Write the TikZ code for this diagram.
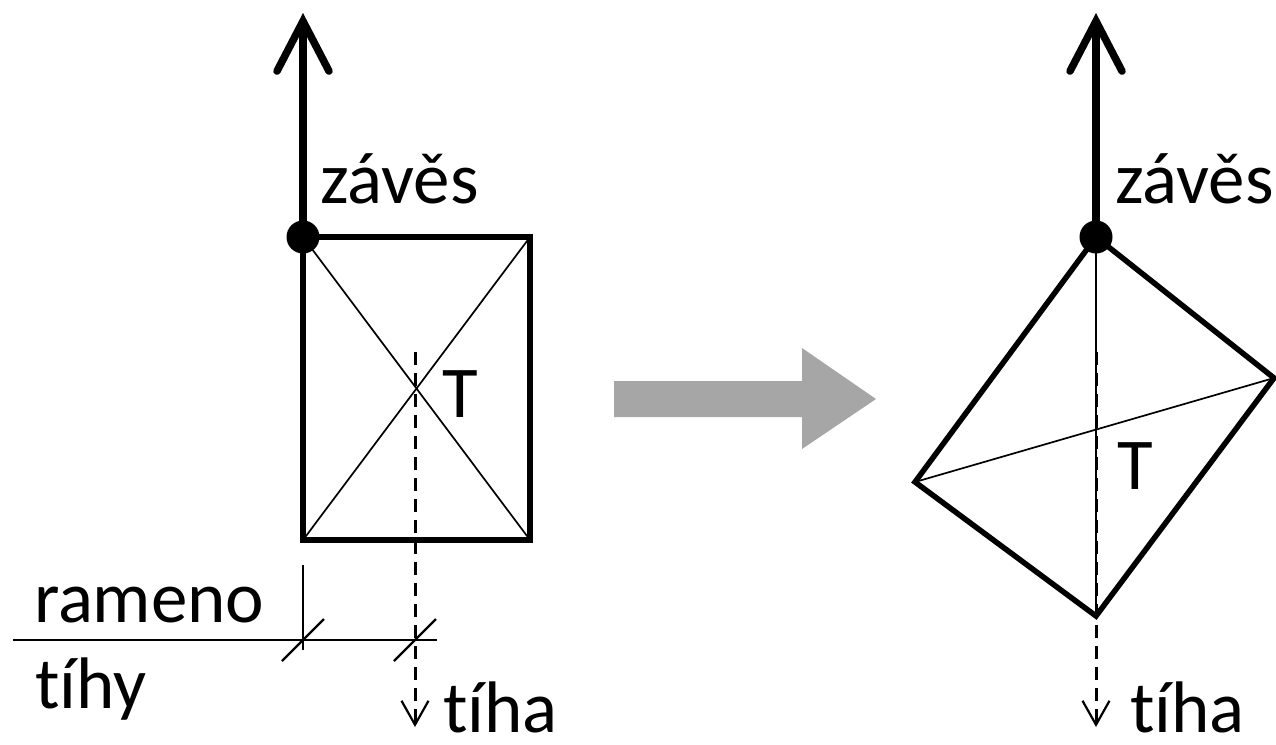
\documentclass[tikz,border=0pt]{standalone}
\usepackage{fontspec}
\setmainfont{Carlito}[Ligatures={NoCommon,NoRequired,NoContextual}]
\usetikzlibrary{arrows.meta}
\definecolor{arrowgray}{HTML}{A6A6A6}
\tikzset{
  lbl/.style={inner sep=0pt, outer sep=0pt, anchor=base west, font=\fontsize{73}{80}\selectfont},
  body/.style={line width=5.5pt, line join=miter},
  thin/.style={line width=1.7pt},
  dimline/.style={line width=2.2pt},
  force/.style={line width=7.5pt, line cap=round, -{Straight Barb[length=50pt,width=52pt,line cap=round,line join=miter]}},
  weight/.style={line width=3pt, dash pattern=on 13pt off 8pt, -{Straight Barb[length=24pt,width=27pt,line width=2.2pt]}},
  pivot/.style={circle, fill=black, inner sep=0pt, minimum size=33pt},
}
\begin{document}
\begin{tikzpicture}[x=1pt,y=-1pt]
\useasboundingbox (0,0) rectangle (1276,744);
% ---------- left ----------
\coordinate (A) at (303,237);
\coordinate (B) at (530,237);
\coordinate (C) at (530,540);
\coordinate (D) at (303,540);
\draw[thin] (A) -- (C) (B) -- (D);
\draw[body] (A) -- (B) -- (C) -- (D) -- cycle;
\coordinate (Ltop) at (303,13);
\draw[force] (A) -- (Ltop);
\node[pivot] (Ldot) at (A) {};
\coordinate (Lg1) at (415,352);
\coordinate (Lg2) at (415,727);
\draw[weight] (Lg1) -- (Lg2);
\node[lbl] (Lzaves) at (320,203) {závěs};
\node[lbl] (LT) at (442,417) {T};
\node[lbl] (Ltiha) at (443,732) {tíha};
% dimension
\coordinate (E1) at (303,565);
\coordinate (E2) at (303,650);
\coordinate (M1) at (13,640);
\coordinate (M2) at (437,640);
\draw[dimline] (E1) -- (E2);
\draw[dimline] (M1) -- (M2);
\coordinate (T1a) at (282,661); \coordinate (T1b) at (324,619);
\coordinate (T2a) at (394,661); \coordinate (T2b) at (436,619);
\draw[dimline] (T1a) -- (T1b);
\draw[dimline] (T2a) -- (T2b);
\node[lbl] (rameno) at (34,622) {rameno};
\node[lbl] (tihy) at (35,708) {tíhy};
% ---------- gray arrow ----------
\fill[arrowgray] (614,381) -- (802,381) -- (802,348) -- (876,399) -- (802,449) -- (802,417) -- (614,417) -- cycle;
% ---------- right ----------
\coordinate (P) at (1096,237);
\coordinate (Q) at (1274,378);
\coordinate (R) at (1096,616);
\coordinate (S) at (915,482);
\draw[thin] (P) -- (R) (S) -- (Q);
\draw[body] (P) -- (Q) -- (R) -- (S) -- cycle;
\coordinate (Rtop) at (1096,13);
\draw[force] (P) -- (Rtop);
\node[pivot] (Rdot) at (P) {};
\coordinate (Rg1) at (1096,352);
\coordinate (Rg2) at (1096,727);
\draw[weight] (Rg1) -- (Rg2);
\node[lbl] (Rzaves) at (1115,203) {závěs};
\node[lbl] (RT) at (1117,489) {T};
\node[lbl] (Rtiha) at (1130,732) {tíha};
\end{tikzpicture}
\end{document}
